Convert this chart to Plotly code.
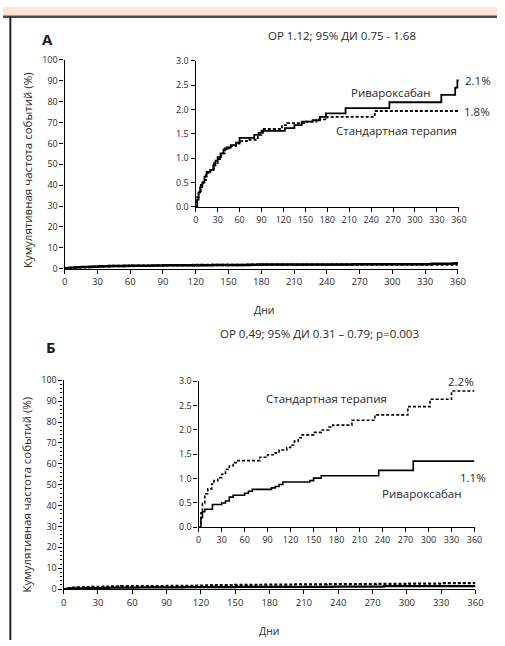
import plotly.graph_objects as go

W, H = 505, 646

# ---------------- data ----------------
tick_days = [0, 30, 60, 90, 120, 150, 180, 210, 240, 270, 300, 330, 360]
main_y_ticks = [0, 10, 20, 30, 40, 50, 60, 70, 80, 90, 100]
inset_y_ticks = [0.0, 0.5, 1.0, 1.5, 2.0, 2.5, 3.0]

# Panel A
a_riva_days = [0, 2, 4, 6, 9, 12, 15, 20, 24, 27, 30, 34, 38, 42, 48, 55, 60, 75, 80, 86, 92,
               115, 122, 135, 145, 160, 170, 178, 205, 265, 336, 355, 358, 360]
a_riva_vals = [0, 0.15, 0.3, 0.4, 0.5, 0.62, 0.72, 0.76, 0.85, 0.95, 1.02, 1.1, 1.18, 1.22, 1.27,
               1.32, 1.42, 1.42, 1.48, 1.52, 1.56, 1.56, 1.62, 1.68, 1.75, 1.78, 1.85, 1.92, 2.03,
               2.15, 2.3, 2.45, 2.6, 2.6]
a_std_days = [0, 2, 4, 7, 10, 14, 20, 25, 30, 35, 40, 45, 55, 62, 70, 85, 90, 110, 118, 125,
              140, 150, 165, 180, 245, 360]
a_std_vals = [0, 0.2, 0.32, 0.45, 0.55, 0.7, 0.75, 0.9, 0.98, 1.1, 1.2, 1.25, 1.3, 1.35, 1.38,
              1.48, 1.6, 1.6, 1.68, 1.72, 1.72, 1.75, 1.8, 1.85, 1.97, 1.97]

# Panel B
b_std_days = [0, 3, 5, 8, 12, 17, 20, 25, 30, 35, 40, 45, 50, 80, 90, 100, 105, 115, 120, 125,
              130, 135, 150, 160, 170, 175, 200, 230, 273, 302, 330, 360]
b_std_vals = [0, 0.3, 0.49, 0.69, 0.79, 0.89, 0.96, 1.02, 1.09, 1.19, 1.26, 1.33, 1.37, 1.44,
              1.49, 1.53, 1.59, 1.64, 1.69, 1.77, 1.84, 1.9, 1.95, 2.0, 2.06, 2.1, 2.2, 2.31,
              2.48, 2.63, 2.8, 2.8]
b_riva_days = [0, 3, 5, 8, 18, 30, 35, 40, 45, 60, 65, 70, 95, 100, 105, 110, 145, 150, 160,
               235, 280, 360]
b_riva_vals = [0, 0.2, 0.32, 0.37, 0.47, 0.5, 0.54, 0.62, 0.66, 0.7, 0.74, 0.78, 0.81, 0.84,
               0.88, 0.93, 0.96, 1.01, 1.06, 1.17, 1.36, 1.36]

title_a = "ОР 1.12; 95% ДИ 0.75 - 1.68"
title_b = "ОР 0,49; 95% ДИ 0.31 – 0.79; p=0.003"
label_riva = "Ривароксабан"
label_std = "Стандартная терапия"
y_title = "Кумулятивная частота событий (%)"
x_title = "Дни"

# ---------------- helpers ----------------
def fx(p):
    return p / W

def fy(p):
    return 1 - p / H

FONT = "Open Sans"
TXT = "#2a2a2a"

fig = go.Figure()

def add_line(xs, ys, dashed, xa, ya, width):
    fig.add_trace(go.Scatter(
        x=xs, y=ys, mode="lines", line_shape="hv",
        line=dict(color="black", width=width, dash="3px,2px" if dashed else "solid"),
        xaxis=xa, yaxis=ya, showlegend=False, hoverinfo="skip"))

# main A
add_line(a_std_days, a_std_vals, True, "x", "y", 2.5)
add_line(a_riva_days, a_riva_vals, False, "x", "y", 2.5)
# inset A
add_line(a_std_days, a_std_vals, True, "x2", "y2", 1.8)
add_line(a_riva_days, a_riva_vals, False, "x2", "y2", 1.8)
# main B
add_line(b_std_days, b_std_vals, True, "x3", "y3", 2.2)
add_line(b_riva_days, b_riva_vals, False, "x3", "y3", 2.2)
# inset B
add_line(b_std_days, b_std_vals, True, "x4", "y4", 1.6)
add_line(b_riva_days, b_riva_vals, False, "x4", "y4", 1.6)

def xax(domain, anchor, size):
    return dict(domain=domain, anchor=anchor, range=[0, 360], tickvals=tick_days,
                showline=True, linecolor="black", linewidth=1.3, ticks="outside",
                ticklen=4, tickcolor="black", showgrid=False, zeroline=False,
                tickfont=dict(family=FONT, size=size, color=TXT), fixedrange=True)

def yax(domain, anchor, rng, vals, size, fmt=None, minor=False):
    d = dict(domain=domain, anchor=anchor, range=rng, tickvals=vals,
             showline=True, linecolor="black", linewidth=1.3, ticks="outside",
             ticklen=4, tickcolor="black", showgrid=False, zeroline=False,
             tickfont=dict(family=FONT, size=size, color=TXT), fixedrange=True)
    if fmt:
        d["tickformat"] = fmt
    if minor:
        d["minor"] = dict(ticks="outside", ticklen=2, dtick=2, tickcolor="black", showgrid=False)
    return d

layout = dict(
    width=W, height=H, margin=dict(l=0, r=0, t=0, b=0),
    paper_bgcolor="white", plot_bgcolor="rgba(0,0,0,0)",
    xaxis=xax([fx(63), fx(465)], "y", 9.5),
    yaxis=yax([fy(267), fy(54)], "x", [0, 100], main_y_ticks, 9),
    xaxis2=xax([fx(197), fx(466)], "y2", 9),
    yaxis2=yax([fy(204), fy(55)], "x2", [0, 3], inset_y_ticks, 9, ".1f"),
    xaxis3=xax([fx(62), fx(483)], "y3", 9.5),
    yaxis3=yax([fy(594), fy(381)], "x3", [0, 100], main_y_ticks, 9, minor=True),
    xaxis4=xax([fx(200), fx(482)], "y4", 9),
    yaxis4=yax([fy(531), fy(382)], "x4", [0, 3], inset_y_ticks, 9, ".1f"),
    showlegend=False,
)
fig.update_layout(**layout)

def ann(text, x, y, size=10, bold=False, angle=0, xanchor="center"):
    fig.add_annotation(text=f"<b>{text}</b>" if bold else text, x=fx(x), y=fy(y),
                       xref="paper", yref="paper", showarrow=False, textangle=angle,
                       xanchor=xanchor, yanchor="middle",
                       font=dict(family=FONT, size=size, color="#1a1a1a" if bold else TXT))

# Panel A texts
ann("А", 45, 33, 15, bold=True)
ann(title_a, 347, 29, 11.5)
ann(label_riva, 397, 87, 11.5)
ann(label_std, 402, 126, 11.5)
ann("2.1%", 470, 75, 11.5, xanchor="left")
ann("1.8%", 469, 107, 11.5, xanchor="left")
ann(y_title, 25, 166, 11.5, angle=-90)
ann(x_title, 267, 309, 10.5)

# Panel B texts
ann("Б", 49, 347, 15, bold=True)
ann(title_b, 324, 333, 11.5)
ann(label_std, 331, 400, 11.5)
ann(label_riva, 428, 497, 11.5)
ann("2.2%", 468, 382, 11.5)
ann("1.1%", 480, 480, 11.5)
ann(y_title, 25, 497, 11.5, angle=-90)
ann(x_title, 272, 637, 10.5)

# Frame: peach band, dark rule, left border
fig.add_shape(type="rect", xref="paper", yref="paper", x0=0, x1=1, y0=fy(9), y1=1,
              fillcolor="#fde4d4", line=dict(width=0), layer="below")
fig.add_shape(type="line", xref="paper", yref="paper", x0=0, x1=1, y0=fy(10), y1=fy(10),
              line=dict(color="#4a4a4a", width=2.5))
fig.add_shape(type="line", xref="paper", yref="paper", x0=fx(7.5), x1=fx(7.5), y0=0, y1=fy(10),
              line=dict(color="#222222", width=2))

fig.write_html("out.html", config={"displayModeBar": False},
               post_script="document.body.style.margin='0';document.body.style.overflow='hidden';")
